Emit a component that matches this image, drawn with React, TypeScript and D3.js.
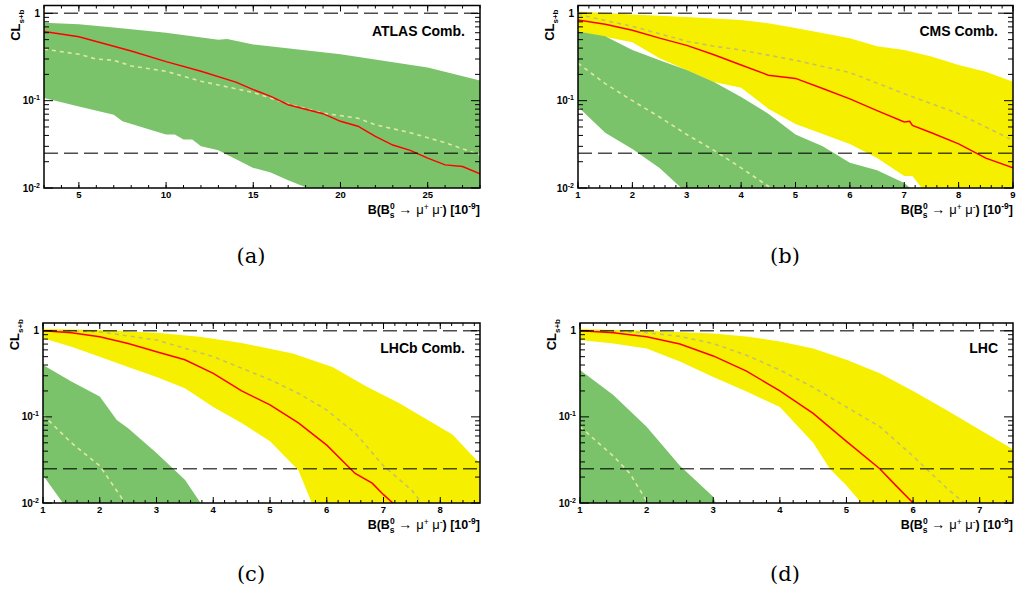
import React from "react";
import * as d3 from "d3";

// ---------------- DATA ----------------
// (a) ATLAS Comb.
const atlasGreenHiX = [3, 5, 7, 10, 13, 13.5, 15, 20, 25, 28];
const atlasGreenHiY = [0.78, 0.75, 0.69, 0.6, 0.5, 0.51, 0.44, 0.34, 0.24, 0.17];
const atlasGreenLoX = [3, 5, 7, 7.5, 9, 10, 10.5, 11, 11.5, 12, 13, 15, 16, 17, 18, 19, 28];
const atlasGreenLoY = [0.107, 0.086, 0.069, 0.058, 0.047, 0.041, 0.041, 0.036, 0.036, 0.03, 0.027, 0.017, 0.015, 0.0123, 0.0102, 0.008, 0.003];
const atlasRedX = [3, 5, 7, 8, 10, 12, 14, 15, 16, 17, 19, 20, 21, 22, 23, 24, 25, 26, 27, 28];
const atlasRedY = [0.62, 0.54, 0.42, 0.37, 0.28, 0.217, 0.163, 0.134, 0.112, 0.09, 0.071, 0.058, 0.051, 0.039, 0.031, 0.027, 0.022, 0.0184, 0.0176, 0.0145];
const atlasPaleX = [3, 5, 6, 7, 8, 10, 12, 15, 17, 19, 21, 22, 24, 26, 28];
const atlasPaleY = [0.39, 0.34, 0.3, 0.29, 0.25, 0.217, 0.167, 0.124, 0.092, 0.072, 0.063, 0.053, 0.043, 0.033, 0.024];

// (b) CMS Comb.
const cmsYellowHiX = [1, 2, 3, 4, 4.5, 5, 6, 6.5, 7, 7.5, 8, 8.5, 9];
const cmsYellowHiY = [1.05, 0.97, 0.91, 0.84, 0.77, 0.68, 0.52, 0.42, 0.38, 0.32, 0.256, 0.215, 0.165];
const cmsYellowLoX = [1, 2, 2.5, 3.5, 4, 4.5, 5, 6, 6.5, 7, 7.15, 7.35, 9];
const cmsYellowLoY = [0.62, 0.466, 0.306, 0.164, 0.141, 0.081, 0.054, 0.032, 0.022, 0.0137, 0.0137, 0.0095, 0.005];
const cmsGreenHiX = [1, 1.5, 2, 2.5, 3, 3.5, 4, 4.5, 5, 5.5, 6, 6.5, 7, 7.15];
const cmsGreenHiY = [0.62, 0.546, 0.38, 0.29, 0.225, 0.164, 0.11, 0.071, 0.041, 0.03, 0.0195, 0.016, 0.0114, 0.0095];
const cmsGreenLoX = [1, 1.5, 2, 2.5, 2.9, 3];
const cmsGreenLoY = [0.085, 0.043, 0.028, 0.017, 0.01, 0.009];
const cmsRedX = [1, 1.5, 2, 2.5, 3, 3.5, 4, 4.5, 5, 5.5, 6, 6.5, 7, 7.1, 7.15, 7.5, 8, 8.5, 9];
const cmsRedY = [0.84, 0.75, 0.64, 0.52, 0.43, 0.335, 0.256, 0.196, 0.18, 0.138, 0.105, 0.077, 0.057, 0.058, 0.052, 0.043, 0.032, 0.022, 0.017];
const cmsPaleYellowX = [1, 2, 3, 3.5, 4, 5, 6, 7, 8, 9];
const cmsPaleYellowY = [0.97, 0.71, 0.48, 0.42, 0.38, 0.29, 0.21, 0.12, 0.071, 0.035];
const cmsPaleGreenX = [1, 1.5, 2, 2.5, 3, 3.5, 4, 4.6];
const cmsPaleGreenY = [0.268, 0.157, 0.1, 0.065, 0.041, 0.027, 0.017, 0.0095];

// (c) LHCb Comb.
const lhcbYellowHiX = [1, 2, 3, 3.76, 4.5, 5.4, 6.1, 6.7, 7.28, 7.87, 8.22, 8.52, 8.7];
const lhcbYellowHiY = [1.05, 1.02, 0.95, 0.85, 0.72, 0.546, 0.38, 0.225, 0.144, 0.085, 0.062, 0.038, 0.029];
const lhcbYellowLoX = [1, 1.5, 2, 2.5, 3, 3.5, 4, 4.5, 5, 5.5, 5.75, 8.7];
const lhcbYellowLoY = [0.82, 0.65, 0.5, 0.38, 0.29, 0.215, 0.13, 0.085, 0.052, 0.024, 0.0095, 0.005];
const lhcbGreenHiX = [1, 1.5, 2, 2.3, 2.5, 3, 3.5, 3.8];
const lhcbGreenHiY = [0.4, 0.257, 0.172, 0.092, 0.074, 0.038, 0.0186, 0.0095];
const lhcbGreenLoX = [1, 1.4];
const lhcbGreenLoY = [0.021, 0.009];
const lhcbRedX = [1, 1.5, 2, 2.5, 3, 3.5, 4, 4.5, 5, 5.5, 6, 6.5, 6.8, 7, 7.2];
const lhcbRedY = [1.0, 0.95, 0.85, 0.71, 0.57, 0.46, 0.32, 0.2, 0.138, 0.085, 0.047, 0.022, 0.017, 0.0125, 0.0095];
const lhcbPaleYellowX = [1, 2, 3, 4, 5, 5.5, 6, 6.5, 7, 7.5, 7.7];
const lhcbPaleYellowY = [1.0, 0.97, 0.78, 0.5, 0.27, 0.188, 0.12, 0.065, 0.027, 0.014, 0.0095];
const lhcbPaleGreenX = [1, 1.5, 2, 2.47];
const lhcbPaleGreenY = [0.105, 0.05, 0.027, 0.0095];

// (d) LHC
const lhcYellowHiX = [1, 2, 3, 3.5, 4, 4.5, 5, 5.5, 6, 6.5, 7, 7.5];
const lhcYellowHiY = [1.05, 1.0, 0.93, 0.86, 0.75, 0.62, 0.46, 0.32, 0.2, 0.12, 0.071, 0.042];
const lhcYellowLoX = [1, 1.5, 2, 2.5, 3, 3.5, 4, 4.5, 4.75, 5, 5.25, 7.5];
const lhcYellowLoY = [0.78, 0.71, 0.62, 0.44, 0.29, 0.197, 0.13, 0.05, 0.025, 0.016, 0.0095, 0.005];
const lhcGreenHiX = [1, 1.5, 2, 2.5, 3, 3.05];
const lhcGreenHiY = [0.35, 0.18, 0.077, 0.027, 0.0118, 0.0095];
const lhcGreenLoX = [1, 3.05];
const lhcGreenLoY = [0.005, 0.005];
const lhcRedX = [1, 1.5, 2, 2.5, 3, 3.5, 4, 4.5, 5, 5.5, 5.75, 6, 6.05];
const lhcRedY = [1.0, 0.95, 0.85, 0.7, 0.51, 0.34, 0.2, 0.11, 0.052, 0.025, 0.0157, 0.01, 0.0095];
const lhcPaleYellowX = [1, 2, 2.5, 3, 3.5, 4, 4.5, 5, 5.5, 6, 6.5, 6.8];
const lhcPaleYellowY = [1.0, 0.95, 0.86, 0.71, 0.52, 0.35, 0.22, 0.13, 0.077, 0.035, 0.015, 0.0095];
const lhcPaleGreenX = [1, 1.5, 1.75, 2, 2.03];
const lhcPaleGreenY = [0.077, 0.035, 0.022, 0.0105, 0.0095];

const referenceLevels = [1, 0.025];
const yMin = 0.01;
const yMax = 1.23;

// ---------------- STYLE ----------------
const GREEN = "#7bc36b";
const YELLOW = "#f6f000";
const RED = "#ff0000";
const PALE_ON_GREEN = "#dfe7a8";
const PALE_ON_YELLOW = "#c6c06a";
const SANS = "'Liberation Sans', Arial, Helvetica, sans-serif";

type Band = { hiX: number[]; hiY: number[]; loX: number[]; loY: number[]; color: string };
type Line = { x: number[]; y: number[]; color: string };

type PanelProps = {
  id: string;
  left: number;
  right: number;
  top: number;
  bottom: number;
  xDomain: [number, number];
  majorTicks: number[];
  minorStep: number;
  title: string;
  bands: Band[];
  pale: Line[];
  red: Line;
  yLabelEnd: number;
};

function Panel(p: PanelProps) {
  const x = d3.scaleLinear().domain(p.xDomain).range([p.left, p.right]);
  const y = d3.scaleLog().domain([yMin, yMax]).range([p.bottom, p.top]);
  const line = d3
    .line<[number, number]>()
    .x((d) => x(d[0]))
    .y((d) => y(d[1]));
  const zip = (xs: number[], ys: number[]) => xs.map((v, i) => [v, ys[i]] as [number, number]);

  const minorX: number[] = [];
  const n = Math.round((p.xDomain[1] - p.xDomain[0]) / p.minorStep);
  for (let i = 0; i <= n; i++) {
    const v = p.xDomain[0] + i * p.minorStep;
    if (v <= p.xDomain[1] + 1e-9) minorX.push(+v.toFixed(4));
  }
  const minorY: number[] = [];
  [0.01, 0.1].forEach((dec) => {
    for (let k = 2; k <= 9; k++) minorY.push(dec * k);
  });
  const majorY = [1, 0.1, 0.01];

  const clip = `clip-${p.id}`;
  const W = p.right - p.left;
  const H = p.bottom - p.top;
  const xt = p.bottom + 10;

  return (
    <g>
      <defs>
        <clipPath id={clip}>
          <rect x={p.left} y={p.top} width={W} height={H} />
        </clipPath>
      </defs>
      <g clipPath={`url(#${clip})`}>
        {p.bands.map((b, i) => {
          const pts = zip(b.hiX, b.hiY).concat(zip(b.loX, b.loY).reverse());
          return <path key={i} d={(line(pts) || "") + "Z"} fill={b.color} stroke="none" />;
        })}
        {p.pale.map((l, i) => (
          <path
            key={i}
            d={line(zip(l.x, l.y)) || ""}
            fill="none"
            stroke={l.color}
            strokeWidth={1.6}
            strokeDasharray="4,4"
          />
        ))}
        <path d={line(zip(p.red.x, p.red.y)) || ""} fill="none" stroke={p.red.color} strokeWidth={1.5} />
        {referenceLevels.map((lv) => (
          <line
            key={lv}
            x1={p.left}
            x2={p.right}
            y1={y(lv)}
            y2={y(lv)}
            stroke="#000"
            strokeOpacity={0.7}
            strokeWidth={1.5}
            strokeDasharray="14,6"
          />
        ))}
      </g>
      {/* frame */}
      <rect x={p.left} y={p.top} width={W} height={H} fill="none" stroke="#000" strokeWidth={1.5} />
      {/* x ticks bottom & top */}
      {minorX.map((v) => (
        <g key={"mx" + v}>
          <line x1={x(v)} x2={x(v)} y1={p.bottom} y2={p.bottom - 3} stroke="#000" />
          <line x1={x(v)} x2={x(v)} y1={p.top} y2={p.top + 3} stroke="#000" />
        </g>
      ))}
      {p.majorTicks.map((v) => (
        <g key={"Mx" + v}>
          <line x1={x(v)} x2={x(v)} y1={p.bottom} y2={p.bottom - 6} stroke="#000" />
          <line x1={x(v)} x2={x(v)} y1={p.top} y2={p.top + 6} stroke="#000" />
          <text
            x={x(v)}
            y={xt}
            textAnchor="middle"
            fontFamily={SANS}
            fontWeight="bold"
            fontSize={9.5}
          >
            {v}
          </text>
        </g>
      ))}
      {/* y ticks left & right */}
      {minorY.map((v) => (
        <g key={"my" + v}>
          <line x1={p.left} x2={p.left + 5} y1={y(v)} y2={y(v)} stroke="#000" />
          <line x1={p.right} x2={p.right - 5} y1={y(v)} y2={y(v)} stroke="#000" />
        </g>
      ))}
      {majorY.map((v) => (
        <g key={"My" + v}>
          <line x1={p.left} x2={p.left + 9} y1={y(v)} y2={y(v)} stroke="#000" />
          <line x1={p.right} x2={p.right - 9} y1={y(v)} y2={y(v)} stroke="#000" />
          <text
            x={p.left - 4}
            y={y(v) + 3.5}
            textAnchor="end"
            fontFamily={SANS}
            fontWeight="bold"
            fontSize={10}
          >
            {v === 1 ? (
              "1"
            ) : (
              <>
                10
                <tspan dy={-4} fontSize={7}>
                  {v === 0.1 ? "-1" : "-2"}
                </tspan>
              </>
            )}
          </text>
        </g>
      ))}
      {/* y title */}
      <text
        transform={`translate(${p.left - 24},${p.yLabelEnd}) rotate(-90)`}
        textAnchor="end"
        fontFamily={SANS}
        fontWeight="bold"
        fontSize={13}
      >
        CL
        <tspan dy={4} fontSize={8}>
          s+b
        </tspan>
      </text>
      {/* x title */}
      <text
        x={p.right}
        y={p.bottom + 26}
        textAnchor="end"
        fontFamily={SANS}
        fontWeight="bold"
        fontSize={12.5}
      >
        B(B
        <tspan dy={-5} fontSize={8.5}>
          0
        </tspan>
        <tspan dx={-5} dy={9} fontSize={8.5}>
          s
        </tspan>
        <tspan dy={-4} fontWeight="normal" fontSize={14}>
          {" \u2192 "}
        </tspan>
        <tspan fontWeight="normal" fontSize={13}>
          {"\u03bc"}
        </tspan>
        <tspan dy={-4} fontSize={8.5} fontWeight="normal">
          +
        </tspan>
        <tspan dy={4} fontWeight="normal" fontSize={13}>
          {" \u03bc"}
        </tspan>
        <tspan dy={-4} fontSize={8.5} fontWeight="normal">
          -
        </tspan>
        <tspan dy={4}>{") [10"}</tspan>
        <tspan dy={-5} fontSize={8.5}>
          -9
        </tspan>
        <tspan dy={5}>]</tspan>
      </text>
      {/* panel title */}
      <text
        x={p.right - 15}
        y={p.top + 30}
        textAnchor="end"
        fontFamily={SANS}
        fontWeight="bold"
        fontSize={14}
      >
        {p.title}
      </text>
    </g>
  );
}

const intTicks = (a: number, b: number) => d3.range(a, b + 1e-9, 1);

export default function App() {
  return (
    <svg width={1017} height={594} style={{ display: "block", position: "absolute", left: 0, top: 0 }}>
      <rect x={0} y={0} width={1017} height={594} fill="#fff" />
      <Panel
        id="a"
        left={44}
        right={480}
        top={5.5}
        bottom={188}
        xDomain={[3, 28]}
        majorTicks={[5, 10, 15, 20, 25]}
        minorStep={1}
        title="ATLAS Comb."
        bands={[{ hiX: atlasGreenHiX, hiY: atlasGreenHiY, loX: atlasGreenLoX, loY: atlasGreenLoY, color: GREEN }]}
        pale={[{ x: atlasPaleX, y: atlasPaleY, color: PALE_ON_GREEN }]}
        red={{ x: atlasRedX, y: atlasRedY, color: RED }}
        yLabelEnd={9.5}
      />
      <Panel
        id="b"
        left={578}
        right={1013}
        top={5.5}
        bottom={188}
        xDomain={[1, 9]}
        majorTicks={intTicks(1, 9)}
        minorStep={0.2}
        title="CMS Comb."
        bands={[
          { hiX: cmsYellowHiX, hiY: cmsYellowHiY, loX: cmsYellowLoX, loY: cmsYellowLoY, color: YELLOW },
          { hiX: cmsGreenHiX, hiY: cmsGreenHiY, loX: cmsGreenLoX, loY: cmsGreenLoY, color: GREEN },
        ]}
        pale={[
          { x: cmsPaleYellowX, y: cmsPaleYellowY, color: PALE_ON_YELLOW },
          { x: cmsPaleGreenX, y: cmsPaleGreenY, color: PALE_ON_GREEN },
        ]}
        red={{ x: cmsRedX, y: cmsRedY, color: RED }}
        yLabelEnd={9.5}
      />
      <Panel
        id="c"
        left={43}
        right={480}
        top={323}
        bottom={503}
        xDomain={[1, 8.7]}
        majorTicks={intTicks(1, 8)}
        minorStep={0.2}
        title="LHCb Comb."
        bands={[
          { hiX: lhcbYellowHiX, hiY: lhcbYellowHiY, loX: lhcbYellowLoX, loY: lhcbYellowLoY, color: YELLOW },
          { hiX: lhcbGreenHiX, hiY: lhcbGreenHiY, loX: lhcbGreenLoX, loY: lhcbGreenLoY, color: GREEN },
        ]}
        pale={[
          { x: lhcbPaleYellowX, y: lhcbPaleYellowY, color: PALE_ON_YELLOW },
          { x: lhcbPaleGreenX, y: lhcbPaleGreenY, color: PALE_ON_GREEN },
        ]}
        red={{ x: lhcbRedX, y: lhcbRedY, color: RED }}
        yLabelEnd={319}
      />
      <Panel
        id="d"
        left={580}
        right={1013}
        top={323}
        bottom={503}
        xDomain={[1, 7.5]}
        majorTicks={intTicks(1, 7)}
        minorStep={0.2}
        title="LHC"
        bands={[
          { hiX: lhcYellowHiX, hiY: lhcYellowHiY, loX: lhcYellowLoX, loY: lhcYellowLoY, color: YELLOW },
          { hiX: lhcGreenHiX, hiY: lhcGreenHiY, loX: lhcGreenLoX, loY: lhcGreenLoY, color: GREEN },
        ]}
        pale={[
          { x: lhcPaleYellowX, y: lhcPaleYellowY, color: PALE_ON_YELLOW },
          { x: lhcPaleGreenX, y: lhcPaleGreenY, color: PALE_ON_GREEN },
        ]}
        red={{ x: lhcRedX, y: lhcRedY, color: RED }}
        yLabelEnd={319}
      />
      {[
        ["(a)", 251, 263],
        ["(b)", 785, 263],
        ["(c)", 251, 581],
        ["(d)", 785, 581],
      ].map(([t, cx, cy]) => (
        <text
          key={t as string}
          x={cx as number}
          y={cy as number}
          textAnchor="middle"
          fontFamily="'DejaVu Serif', 'Liberation Serif', serif"
          fontSize={21}
        >
          {t}
        </text>
      ))}
    </svg>
  );
}
